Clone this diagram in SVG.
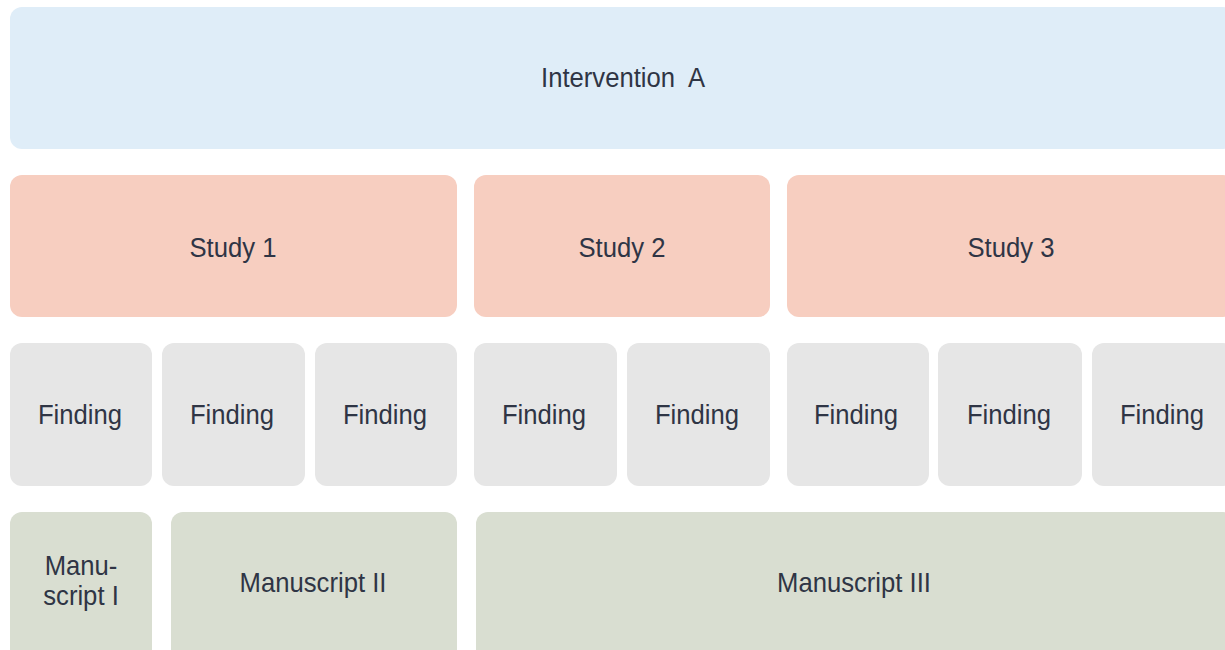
<svg xmlns="http://www.w3.org/2000/svg" width="1225" height="650" viewBox="0 0 1225 650">
  <style>
    .lbl { font-family: "Liberation Sans", Arial, sans-serif; font-size: 28.5px; fill: #2f3545; text-anchor: middle; white-space: pre; }
    .intervention { fill: #dfedf8; }
    .study { fill: #f7cec0; }
    .finding { fill: #e6e6e6; }
    .manuscript { fill: #d9ded1; }
  </style>
  <rect width="1225" height="650" fill="#ffffff"/>

  <!-- Top level -->
  <g id="intervention-a">
    <rect class="intervention" x="10" y="7" width="1225" height="142" rx="12"/>
    <text class="lbl" transform="translate(623 87) scale(0.9 1)">Intervention  A</text>
  </g>

  <!-- Studies -->
  <g id="study-1">
    <rect class="study" x="10" y="175" width="447" height="142" rx="12"/>
    <text class="lbl" transform="translate(233 257) scale(0.9 1)">Study 1</text>
  </g>
  <g id="study-2">
    <rect class="study" x="474" y="175" width="296" height="142" rx="12"/>
    <text class="lbl" transform="translate(622 257) scale(0.9 1)">Study 2</text>
  </g>
  <g id="study-3">
    <rect class="study" x="787" y="175" width="448" height="142" rx="12"/>
    <text class="lbl" transform="translate(1011 257) scale(0.9 1)">Study 3</text>
  </g>

  <!-- Findings -->
  <g id="finding-1">
    <rect class="finding" x="10" y="343" width="142" height="143" rx="12"/>
    <text class="lbl" transform="translate(80 424) scale(0.9 1)">Finding</text>
  </g>
  <g id="finding-2">
    <rect class="finding" x="162" y="343" width="143" height="143" rx="12"/>
    <text class="lbl" transform="translate(232 424) scale(0.9 1)">Finding</text>
  </g>
  <g id="finding-3">
    <rect class="finding" x="315" y="343" width="142" height="143" rx="12"/>
    <text class="lbl" transform="translate(385 424) scale(0.9 1)">Finding</text>
  </g>
  <g id="finding-4">
    <rect class="finding" x="474" y="343" width="143" height="143" rx="12"/>
    <text class="lbl" transform="translate(544 424) scale(0.9 1)">Finding</text>
  </g>
  <g id="finding-5">
    <rect class="finding" x="627" y="343" width="143" height="143" rx="12"/>
    <text class="lbl" transform="translate(697 424) scale(0.9 1)">Finding</text>
  </g>
  <g id="finding-6">
    <rect class="finding" x="787" y="343" width="142" height="143" rx="12"/>
    <text class="lbl" transform="translate(856 424) scale(0.9 1)">Finding</text>
  </g>
  <g id="finding-7">
    <rect class="finding" x="938" y="343" width="144" height="143" rx="12"/>
    <text class="lbl" transform="translate(1009 424) scale(0.9 1)">Finding</text>
  </g>
  <g id="finding-8">
    <rect class="finding" x="1092" y="343" width="143" height="143" rx="12"/>
    <text class="lbl" transform="translate(1162 424) scale(0.9 1)">Finding</text>
  </g>

  <!-- Manuscripts -->
  <g id="manuscript-1">
    <rect class="manuscript" x="10" y="512" width="142" height="150" rx="12"/>
    <text class="lbl" transform="translate(81 575) scale(0.9 1)"><tspan x="0" y="0">Manu-</tspan><tspan x="0" y="30">script I</tspan></text>
  </g>
  <g id="manuscript-2">
    <rect class="manuscript" x="171" y="512" width="286" height="150" rx="12"/>
    <text class="lbl" transform="translate(313 592) scale(0.9 1)">Manuscript II</text>
  </g>
  <g id="manuscript-3">
    <rect class="manuscript" x="476" y="512" width="759" height="150" rx="12"/>
    <text class="lbl" transform="translate(854 592) scale(0.9 1)">Manuscript III</text>
  </g>

  <g id="connectors"/>
</svg>
